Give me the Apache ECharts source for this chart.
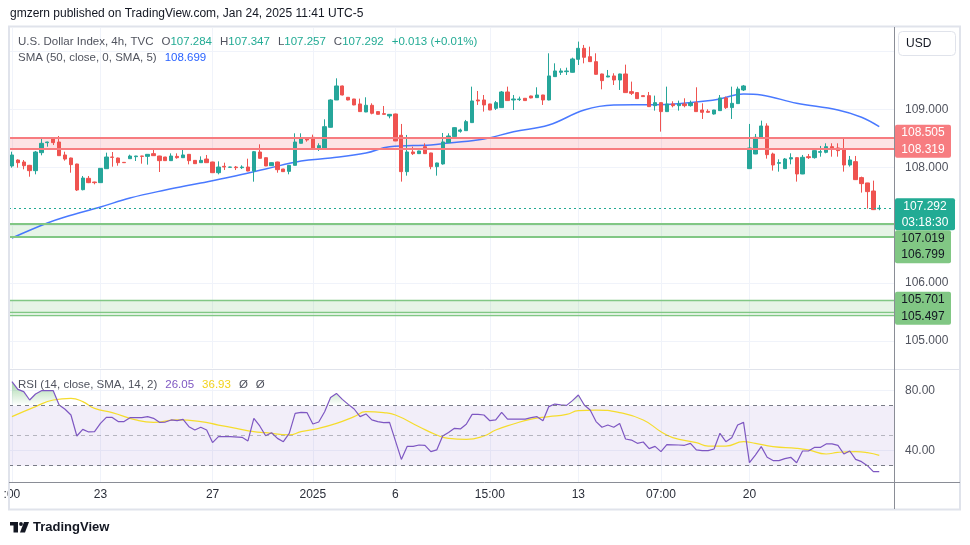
<!DOCTYPE html>
<html><head><meta charset="utf-8">
<script src="https://cdn.jsdelivr.net/npm/echarts/dist/echarts.min.js"></script>
<style>html,body{margin:0;padding:0;background:#fff}#c{width:970px;height:545px}</style>
</head><body><div id="c"></div>
<script>
// ---------- DATA ----------
const opens = [108.021,108.124,108.090,108.032,107.940,108.251,108.424,108.487,108.435,108.211,108.159,108.055,107.612,107.808,107.744,107.733,107.974,108.176,108.159,108.084,108.147,108.182,108.193,108.187,108.234,108.193,108.176,108.113,108.187,108.164,108.222,108.118,108.078,108.141,108.090,107.905,108.015,107.998,108.003,107.992,108.003,107.934,108.262,108.164,108.026,108.090,107.969,107.928,108.032,108.413,108.487,108.516,108.315,108.315,108.689,109.161,109.403,109.207,109.178,109.092,108.954,109.069,108.960,108.925,108.885,108.919,108.551,107.923,108.263,108.234,108.355,108.246,108.010,108.056,108.424,108.528,108.620,108.631,108.770,109.161,109.161,109.092,109.017,109.029,109.299,109.161,109.167,109.190,109.230,109.201,109.247,109.161,109.564,109.639,109.650,109.639,109.863,110.053,109.909,109.823,109.610,109.558,109.576,109.506,109.610,109.305,109.288,109.236,109.236,109.063,109.115,108.960,109.092,109.063,109.092,109.063,109.115,108.988,108.965,108.919,108.977,109.196,109.029,109.098,109.334,107.975,108.228,108.516,108.712,108.228,108.067,107.975,108.142,108.165,107.883,108.182,108.165,108.257,108.257,108.355,108.332,108.309,108.038,108.096,107.820,107.728,107.589,107.284];
const closes = [108.211,108.078,108.026,107.940,108.262,108.412,108.435,108.424,108.199,108.141,108.044,107.606,107.813,107.733,107.733,107.980,108.176,108.170,108.078,108.078,108.193,108.193,108.187,108.222,108.199,108.113,108.113,108.193,108.164,108.211,108.113,108.061,108.118,108.078,107.905,108.003,108.003,108.003,107.992,108.003,107.934,108.268,108.153,108.021,108.078,107.957,107.923,108.032,108.435,108.511,108.470,108.315,108.372,108.700,109.161,109.403,109.247,109.161,109.075,108.960,109.069,108.931,108.913,108.913,108.913,108.453,107.923,108.263,108.234,108.280,108.234,108.010,108.073,108.436,108.539,108.683,108.643,108.787,109.144,109.144,109.075,108.988,109.115,109.299,109.150,109.178,109.178,109.150,109.196,109.247,109.161,109.576,109.662,109.662,109.662,109.869,110.053,109.898,109.823,109.604,109.495,109.576,109.506,109.610,109.288,109.276,109.184,109.219,109.046,109.115,108.960,109.092,109.063,109.092,109.063,109.109,108.960,108.948,108.948,108.988,109.196,109.029,109.103,109.351,109.403,108.332,108.516,108.712,108.217,108.038,108.079,108.142,108.165,107.883,108.171,108.165,108.286,108.269,108.355,108.332,108.286,108.038,108.125,107.785,107.716,107.578,107.267,107.292];
const lows = [107.992,107.992,107.963,107.836,107.877,108.205,108.354,108.383,108.195,108.113,107.905,107.589,107.600,107.725,107.704,107.728,107.970,108.009,108.026,108.074,108.145,108.107,108.061,108.044,108.195,107.917,108.110,108.110,108.147,108.160,108.049,108.058,108.075,108.075,107.900,107.877,107.951,107.995,107.951,107.969,107.930,107.750,108.150,108.018,108.022,107.905,107.920,107.877,108.030,108.410,108.441,108.310,108.280,108.310,108.685,109.160,109.240,109.155,109.070,108.955,108.950,108.913,108.910,108.910,108.844,108.450,107.751,107.854,108.211,108.230,108.230,107.964,107.854,108.044,108.420,108.520,108.597,108.630,108.765,109.075,108.960,108.985,108.988,109.025,109.145,108.988,109.144,109.145,109.190,109.198,109.075,109.155,109.560,109.593,109.593,109.635,109.765,109.794,109.820,109.600,109.345,109.555,109.420,109.334,109.285,109.247,109.180,109.215,109.040,108.977,108.614,108.955,109.034,108.977,109.034,109.046,108.955,108.833,108.945,108.908,108.975,109.006,108.833,109.095,109.316,107.970,108.225,108.510,108.148,107.941,107.923,107.970,108.050,107.751,107.880,108.142,108.148,108.182,108.240,108.182,108.182,107.923,108.010,107.780,107.561,107.284,107.260,107.257];
const highs = [108.268,108.136,108.124,108.040,108.280,108.493,108.440,108.492,108.539,108.268,108.165,108.060,107.848,107.848,107.750,107.985,108.251,108.262,108.165,108.088,108.216,108.197,108.197,108.226,108.297,108.197,108.180,108.239,108.239,108.297,108.226,108.120,108.187,108.211,108.095,108.101,108.078,108.007,108.021,108.032,108.147,108.280,108.395,108.168,108.082,108.095,107.972,108.035,108.585,108.585,108.490,108.562,108.413,108.827,109.173,109.535,109.410,109.210,109.180,109.184,109.207,109.103,108.965,109.057,108.917,108.925,108.747,108.557,108.355,108.285,108.413,108.250,108.078,108.591,108.585,108.690,108.666,108.816,109.391,109.316,109.247,109.095,109.144,109.316,109.391,109.247,109.219,109.195,109.235,109.380,109.250,109.967,109.794,109.708,109.719,109.892,110.169,110.111,110.082,109.967,109.615,109.679,109.622,109.615,109.771,109.478,109.290,109.240,109.299,109.236,109.120,109.391,109.138,109.150,109.190,109.150,109.380,109.103,109.000,108.990,109.247,109.219,109.391,109.391,109.420,108.747,108.574,108.804,108.758,108.251,108.136,108.159,108.240,108.170,108.211,108.228,108.290,108.367,108.413,108.413,108.413,108.511,108.194,108.194,107.837,107.730,107.768,107.347];

// SMA(50) read at sample candles: [candle index, value]
const smaPoints = [[0,106.777],[6,107.036],[9,107.140],[15,107.313],[20,107.468],[26,107.606],[32,107.727],[37,107.831],[43,107.969],[49,108.107],[54,108.159],[60,108.245],[64,108.354],[71,108.383],[74,108.417],[80,108.486],[85,108.613],[91,108.729],[97,108.988],[102,109.074],[109,109.079],[119,109.161],[124,109.264],[127,109.247],[133,109.104],[140,108.988],[144,108.862],[147,108.699]];

// RSI(14) and its SMA(14): [candle index, value]
const rsiPoints = [[0,86.0],[1,80.9],[2,79.4],[3,73.8],[4,77.8],[5,80.0],[7,80.0],[8,70.5],[9,67.6],[10,63.8],[11,49.8],[12,54.2],[13,52.5],[14,52.7],[15,58.2],[16,62.2],[17,62.2],[18,59.4],[19,59.4],[20,62.0],[22,62.0],[23,62.7],[24,61.6],[25,58.9],[26,59.1],[27,60.5],[28,60.0],[29,60.9],[30,56.0],[31,53.8],[32,55.6],[33,53.8],[34,45.4],[35,49.4],[36,49.4],[37,49.4],[39,48.9],[40,46.5],[41,61.6],[42,56.5],[43,50.0],[44,52.0],[45,48.2],[46,46.0],[47,51.6],[48,64.9],[49,65.6],[50,65.4],[51,57.8],[52,59.1],[53,66.0],[54,75.4],[55,78.2],[56,74.2],[57,70.9],[58,67.8],[59,62.7],[60,64.5],[61,60.5],[62,59.4],[63,58.7],[64,58.9],[66,34.2],[67,42.9],[68,42.9],[69,43.8],[70,43.6],[71,39.4],[72,40.5],[73,49.8],[74,52.2],[75,54.9],[76,54.5],[77,57.6],[78,64.2],[79,64.2],[80,63.8],[81,60.0],[82,60.5],[83,65.6],[84,61.1],[86,61.1],[87,61.1],[88,62.0],[89,62.7],[90,60.0],[91,69.4],[92,71.1],[93,70.5],[94,70.2],[95,73.4],[96,77.1],[97,70.5],[98,67.1],[99,59.4],[100,55.6],[101,57.1],[102,55.6],[103,58.2],[104,47.8],[105,47.1],[106,44.9],[107,45.8],[108,41.4],[109,42.9],[110,39.4],[111,44.0],[113,43.8],[114,43.6],[115,44.9],[116,40.5],[117,40.0],[118,40.0],[119,41.1],[120,51.6],[121,46.0],[122,48.7],[123,57.1],[124,58.9],[125,32.0],[126,37.1],[127,42.7],[128,35.6],[129,33.4],[130,33.4],[131,34.7],[132,35.6],[133,32.0],[134,39.8],[135,39.8],[136,42.2],[137,42.2],[138,44.5],[139,44.5],[140,43.6],[141,37.8],[142,39.8],[143,34.2],[144,32.7],[145,30.0],[146,26.0],[147,26.05]];
const rsiSmaPoints = [[0,62.7],[4,69.4],[7,73.8],[10,74.9],[12,72.7],[14,68.2],[17,65.4],[21,60.5],[24,58.9],[28,60.5],[32,59.4],[35,57.1],[38,54.9],[41,52.7],[43,52.0],[47,50.5],[49,52.7],[52,54.9],[55,58.2],[58,62.7],[60,66.0],[63,65.4],[65,63.8],[69,56.0],[72,50.5],[74,48.2],[77,47.6],[80,49.8],[82,53.8],[85,57.8],[88,61.1],[91,62.7],[94,64.2],[96,66.7],[99,67.1],[103,65.4],[107,60.5],[110,52.7],[112,48.7],[116,45.4],[118,43.1],[121,43.1],[124,46.0],[126,44.9],[129,42.7],[133,41.6],[135,40.5],[138,37.8],[140,38.9],[143,39.4],[145,38.7],[147,36.93]];

// time-axis labels: candle index -> text
const timeLabelIdx = [0,15,34,51,65,81,96,110,125];
const timeLabelText = [':00','23','27','2025','6','15:00','13','07:00','20'];

// price zones and levels
const resistanceZone = [108.319, 108.505];
const supportZone1 = [106.799, 107.019];
const supportZone2 = [105.497, 105.701];
const supportZone2Extra = 105.453;
const lastPrice = 107.292;
const priceTickLabels = [105, 106, 108, 109];
const rsiTickLabels = [40, 80];
const rsiLevels = [30, 50, 70];

// legend values
const ohlcLegend = {o:'107.284', h:'107.347', l:'107.257', c:'107.292', chg:'+0.013 (+0.01%)'};
const smaLegend = '108.699';
const rsiLegend = ['26.05', '36.93'];
const countdown = '03:18:30';

// ---------- CHART ----------
const FF = '"Liberation Sans", Arial, sans-serif';
const N_CAT = 150;
const cats = Array.from({length: N_CAT}, (_, i) => String(i));
const labelMap = {};
timeLabelIdx.forEach((k, j) => labelMap[k] = timeLabelText[j]);
const isLabel = (idx) => labelMap[idx] !== undefined;
const candles = opens.map((o, i) => [o, closes[i], lows[i], highs[i]]);

const GREEN = '#26a69a', RED = '#ef5350';
const chart = echarts.init(document.getElementById('c'), null, {renderer: 'canvas'});

const gridL = 9, gridW = 885;

const option = {
  animation: false,
  backgroundColor: '#ffffff',
  grid: [
    {left: gridL, width: gridW, top: 28, height: 340},
    {left: gridL, width: gridW, top: 370, height: 112}
  ],
  xAxis: [
    {gridIndex: 0, type: 'category', data: cats, boundaryGap: true,
     axisLine: {show: false}, axisTick: {show: false}, axisLabel: {show: false},
     splitLine: {show: true, interval: (i) => isLabel(i), alignWithLabel: true, lineStyle: {color: '#f0f3fa', width: 1}}},
    {gridIndex: 1, type: 'category', data: cats, boundaryGap: true,
     axisLine: {show: false}, axisTick: {show: false, alignWithLabel: true},
     axisLabel: {show: true, interval: (i) => isLabel(i), formatter: (v) => labelMap[+v] || '', margin: 7,
                 color: '#2a2e39', fontSize: 12, fontFamily: FF},
     splitLine: {show: true, interval: (i) => isLabel(i), alignWithLabel: true, lineStyle: {color: '#f0f3fa', width: 1}}}
  ],
  yAxis: [
    {gridIndex: 0, type: 'value', position: 'right', min: 104.532, max: 110.404, minInterval: 1, maxInterval: 1,
     axisLine: {show: false}, axisTick: {show: false},
     axisLabel: {margin: 11, color: '#50535e', fontSize: 12, fontFamily: FF,
                 formatter: (v) => priceTickLabels.some(t => Math.abs(t - v) < 1e-6) ? v.toFixed(3) : ''},
     splitLine: {show: true, showMinLine: false, showMaxLine: false, lineStyle: {color: '#f0f3fa'}}},
    {gridIndex: 1, type: 'value', position: 'right', min: 19.13, max: 93.8, minInterval: 40, maxInterval: 40,
     axisLine: {show: false}, axisTick: {show: false},
     axisLabel: {margin: 11, color: '#50535e', fontSize: 12, fontFamily: FF,
                 formatter: (v) => rsiTickLabels.some(t => Math.abs(t - v) < 1e-6) ? v.toFixed(2) : ''},
     splitLine: {show: true, showMinLine: false, showMaxLine: false, lineStyle: {color: '#f0f3fa'}}}
  ],
  visualMap: [{
    type: 'continuous', show: false, seriesIndex: 3, dimension: 1, min: 70, max: 100,
    inRange: {color: ['rgba(76,175,80,0)', 'rgba(76,175,80,0.9)']},
    outOfRange: {color: 'rgba(255,255,255,0)'}
  }],
  series: [
    {
      name: 'zones', type: 'line', xAxisIndex: 0, yAxisIndex: 0, data: [], z: 1,
      markArea: {silent: true, data: [
        [{yAxis: resistanceZone[0], itemStyle: {color: 'rgba(242,54,69,0.14)'}}, {yAxis: resistanceZone[1]}],
        [{yAxis: supportZone1[0], itemStyle: {color: 'rgba(76,175,80,0.14)'}}, {yAxis: supportZone1[1]}],
        [{yAxis: supportZone2[0], itemStyle: {color: 'rgba(76,175,80,0.14)'}}, {yAxis: supportZone2[1]}]
      ]}
    },
    {
      name: 'SMA', type: 'line', xAxisIndex: 0, yAxisIndex: 0, data: smaPoints, smooth: 0.4,
      symbol: 'none', z: 2, lineStyle: {color: '#2962ff', width: 1.5, opacity: 0.85}
    },
    {
      name: 'DXY', type: 'candlestick', xAxisIndex: 0, yAxisIndex: 0, data: candles, z: 3, barWidth: 3.8,
      itemStyle: {color: GREEN, color0: RED, borderColor: GREEN, borderColor0: RED, borderWidth: 1},
      markLine: {silent: true, symbol: ['none', 'none'], label: {show: false}, data: [
        {yAxis: resistanceZone[1], lineStyle: {color: '#f77c80', width: 2, type: 'solid'}},
        {yAxis: resistanceZone[0], lineStyle: {color: '#f77c80', width: 2, type: 'solid'}},
        {yAxis: supportZone1[1], lineStyle: {color: '#81c784', width: 2, type: 'solid'}},
        {yAxis: supportZone1[0], lineStyle: {color: '#81c784', width: 2, type: 'solid'}},
        {yAxis: supportZone2[1], lineStyle: {color: '#81c784', width: 1.4, type: 'solid'}},
        {yAxis: supportZone2[0], lineStyle: {color: '#81c784', width: 1.4, type: 'solid'}},
        {yAxis: supportZone2Extra, lineStyle: {color: '#81c784', width: 1.4, type: 'solid'}},
        {yAxis: lastPrice, lineStyle: {color: '#22ab94', width: 1.2, type: [2, 3]}}
      ]}
    },
    {
      name: 'RSIfill', type: 'line', xAxisIndex: 1, yAxisIndex: 1, data: rsiPoints, symbol: 'none', z: 1,
      lineStyle: {width: 0}, areaStyle: {origin: 'start', opacity: 1}
    },
    {
      name: 'RSI', type: 'line', xAxisIndex: 1, yAxisIndex: 1, data: rsiPoints, symbol: 'none', z: 3,
      lineStyle: {color: '#7e57c2', width: 1.2},
      markArea: {silent: true, itemStyle: {color: 'rgba(126,87,194,0.1)'}, data: [[{yAxis: rsiLevels[0]}, {yAxis: rsiLevels[2]}]]},
      markLine: {silent: true, symbol: ['none', 'none'], label: {show: false}, data: [
        {yAxis: rsiLevels[2], lineStyle: {color: '#787b86', width: 1, type: [4, 4]}},
        {yAxis: rsiLevels[1], lineStyle: {color: 'rgba(120,123,134,0.5)', width: 1, type: [4, 4]}},
        {yAxis: rsiLevels[0], lineStyle: {color: '#787b86', width: 1, type: [4, 4]}}
      ]}
    },
    {
      name: 'RSI SMA', type: 'line', xAxisIndex: 1, yAxisIndex: 1, data: rsiSmaPoints, symbol: 'none', z: 2,
      smooth: 0.5, lineStyle: {color: '#f5dc2d', width: 1.2}
    }
  ]
};
chart.setOption(option);

// ---------- chrome: texts, frame, price tags ----------
const py = (v) => chart.convertToPixel({yAxisIndex: 0}, v);
const AX = 894.5, TAGX = 895;
const g = [];
function txt(x, y, text, fill, size, extra) {
  g.push(Object.assign({type: 'text', x, y, z: 50, style: {text, fill, font: `${size || 12}px ${FF}`,
    textAlign: 'left', textVerticalAlign: 'middle', align: 'left', verticalAlign: 'middle'}}, extra || {}));
}
// frame
g.push({type: 'rect', z: 40, shape: {x: 9, y: 26.5, width: 951, height: 483}, style: {fill: 'none', stroke: '#e0e3eb', lineWidth: 2}});
g.push({type: 'line', z: 40, shape: {x1: 9, y1: 369.5, x2: 960, y2: 369.5}, style: {stroke: '#e0e3eb', lineWidth: 1}});
g.push({type: 'line', z: 41, shape: {x1: 9, y1: 482.5, x2: 960, y2: 482.5}, style: {stroke: '#8a8d96', lineWidth: 1}});
g.push({type: 'line', z: 41, shape: {x1: AX, y1: 27, x2: AX, y2: 509}, style: {stroke: '#8a8d96', lineWidth: 1}});

// header
txt(10, 14, 'gmzern published on TradingView.com, Jan 24, 2025 11:41 UTC-5', '#131722', 12);
const LF = `11.5px ${FF}`;
g.push({type: 'text', x: 18, y: 42, z: 50, style: {
  text: '{g|U.S. Dollar Index, 4h, TVC}{o|O}{t|' + ohlcLegend.o + '}{o|H}{t|' + ohlcLegend.h + '}{o|L}{t|' + ohlcLegend.l + '}{o|C}{t|' + ohlcLegend.c + '}{c|' + ohlcLegend.chg + '}',
  verticalAlign: 'middle', textVerticalAlign: 'middle',
  rich: {
    g: {fill: '#50535e', font: LF},
    o: {fill: '#50535e', font: LF, padding: [0, 0, 0, 8]},
    t: {fill: '#22ab94', font: LF},
    c: {fill: '#22ab94', font: LF, padding: [0, 0, 0, 8]}
  }}});
g.push({type: 'text', x: 18, y: 58, z: 50, style: {
  text: '{g|SMA (50, close, 0, SMA, 5)}{b|' + smaLegend + '}',
  verticalAlign: 'middle', textVerticalAlign: 'middle',
  rich: {g: {fill: '#50535e', font: LF}, b: {fill: '#2962ff', font: LF, padding: [0, 0, 0, 8]}}}});
g.push({type: 'text', x: 18, y: 385, z: 50, style: {
  text: '{g|RSI (14, close, SMA, 14, 2)}{p|' + rsiLegend[0] + '}{y|' + rsiLegend[1] + '}{n|Ø}{n|Ø}',
  verticalAlign: 'middle', textVerticalAlign: 'middle',
  rich: {g: {fill: '#50535e', font: LF},
         p: {fill: '#7e57c2', font: LF, padding: [0, 0, 0, 8]},
         y: {fill: '#f2d21b', font: LF, padding: [0, 0, 0, 8]},
         n: {fill: '#50535e', font: LF, padding: [0, 0, 0, 8]}}}});

// USD box
g.push({type: 'rect', z: 45, shape: {x: 898.5, y: 31.5, width: 57, height: 24, r: 4}, style: {fill: '#fff', stroke: '#e0e3eb', lineWidth: 1}});
txt(906, 44, 'USD', '#131722', 12);

// price tags
function tag(top, h, w, bg, lines, fg) {
  g.push({type: 'rect', z: 46, shape: {x: TAGX, y: top, width: w, height: h, r: 2}, style: {fill: bg}});
  const step = h / lines.length;
  lines.forEach((t, k) => {
    g.push({type: 'text', z: 47, x: TAGX + w / 2, y: top + step * (k + 0.5), style: {text: t, fill: fg,
      font: `12px ${FF}`, textAlign: 'center', align: 'center', textVerticalAlign: 'middle', verticalAlign: 'middle'}});
  });
}
const H2 = 33;
const rc = (py(resistanceZone[1]) + py(resistanceZone[0])) / 2;
tag(rc - H2 / 2 - 2, H2, 56, '#f77c80', [resistanceZone[1].toFixed(3), resistanceZone[0].toFixed(3)], '#ffffff');
const lp = py(lastPrice);
const tealTop = lp - 10, tealH = 32;
tag(tealTop, tealH, 60, '#22ab94', [lastPrice.toFixed(3), countdown], '#ffffff');
const s1c = (py(supportZone1[1]) + py(supportZone1[0])) / 2;
tag(Math.max(s1c - H2 / 2, tealTop + tealH), H2, 56, '#81c784', [supportZone1[1].toFixed(3), supportZone1[0].toFixed(3)], '#131722');
const s2c = (py(supportZone2[1]) + py(supportZone2[0])) / 2;
tag(s2c - H2 / 2 + 2, H2, 56, '#81c784', [supportZone2[1].toFixed(3), supportZone2[0].toFixed(3)], '#131722');

// TradingView footer logo + text
g.push({type: 'rect', z: 50, shape: {x: 10, y: 522, width: 8, height: 3.5}, style: {fill: '#131722'}});
g.push({type: 'rect', z: 50, shape: {x: 13.5, y: 522, width: 4.5, height: 10.5}, style: {fill: '#131722'}});
g.push({type: 'circle', z: 50, shape: {cx: 21, cy: 524, r: 1.9}, style: {fill: '#131722'}});
g.push({type: 'polygon', z: 50, shape: {points: [[24, 522], [29, 522], [25, 532.5], [20, 532.5]]}, style: {fill: '#131722'}});
g.push({type: 'text', x: 33, y: 527.5, z: 50, style: {text: 'TradingView', fill: '#131722', font: `bold 13px ${FF}`,
  textVerticalAlign: 'middle', verticalAlign: 'middle'}});

chart.setOption({graphic: {elements: g}});
</script>
</body></html>
